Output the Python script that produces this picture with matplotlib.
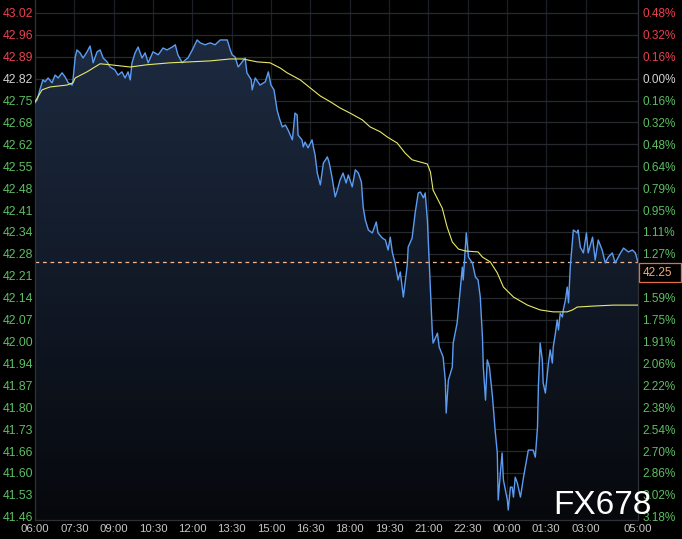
import numpy as np
import matplotlib
matplotlib.use("Agg")
import matplotlib.pyplot as plt
from matplotlib.patches import Polygon, Rectangle
from matplotlib.colors import LinearSegmentedColormap

plt.rcParams['font.family'] = ['Liberation Sans', 'DejaVu Sans']

# ---------------- data ----------------
# minutes after 06:00
price_time = [0, 5, 11, 18, 23, 30, 39, 46, 53, 62, 69, 76, 85, 87, 92, 96, 103, 110, 119, 126,
              131, 133, 142, 149, 156, 165, 172, 183, 190, 199, 206, 213, 218, 222, 229, 236, 245,
              252, 259, 270, 282, 293, 302, 314, 321, 327, 337, 344, 350, 360, 371, 378, 389, 401,
              412, 424, 440, 447, 451, 458, 465, 474, 481, 485, 495, 497, 504, 515, 527, 534, 540,
              547, 554, 559, 566, 573, 579, 589, 595, 600, 602, 611, 614, 618, 625, 634, 637, 641,
              646, 653, 660, 669, 673, 680, 687, 692, 698, 705, 712, 717, 726, 733, 740, 747, 751,
              756, 763, 772, 781, 785, 795, 802, 808, 813, 818, 824, 831, 836, 843, 852, 854, 863,
              870, 877, 882, 889, 893, 898, 900, 905, 909, 911, 921, 925, 934, 939, 941, 946, 955,
              957, 966, 973, 978, 980, 987, 992, 1001, 1008, 1014, 1019, 1024, 1026, 1031, 1035,
              1040, 1047, 1053, 1058, 1060, 1065, 1069, 1072, 1081, 1083, 1088, 1092, 1095, 1099,
              1104, 1106, 1111, 1118, 1122, 1129, 1140, 1145, 1150, 1152, 1156, 1161, 1163, 1168,
              1175, 1179, 1184, 1186, 1191, 1195, 1198, 1202, 1207, 1209, 1214, 1218, 1221, 1225,
              1230, 1232, 1241, 1243, 1248, 1255, 1262, 1266, 1276, 1282, 1289, 1298, 1305, 1312,
              1321, 1328, 1340, 1347, 1358, 1367, 1374, 1380]
price = [42.745, 42.754, 42.785, 42.816, 42.810, 42.822, 42.807, 42.831, 42.822, 42.838, 42.825,
         42.807, 42.800, 42.816, 42.887, 42.909, 42.900, 42.884, 42.903, 42.921, 42.887, 42.869,
         42.903, 42.909, 42.884, 42.872, 42.856, 42.847, 42.831, 42.841, 42.822, 42.841, 42.816,
         42.869, 42.900, 42.918, 42.884, 42.900, 42.869, 42.903, 42.894, 42.915, 42.909, 42.918,
         42.925, 42.894, 42.869, 42.878, 42.884, 42.909, 42.940, 42.931, 42.925, 42.931, 42.925,
         42.940, 42.940, 42.909, 42.894, 42.887, 42.856, 42.872, 42.884, 42.838, 42.816, 42.785,
         42.822, 42.800, 42.810, 42.841, 42.800, 42.785, 42.723, 42.698, 42.670, 42.676, 42.661,
         42.630, 42.713, 42.707, 42.645, 42.630, 42.608, 42.623, 42.605, 42.630, 42.608, 42.583,
         42.527, 42.490, 42.558, 42.577, 42.561, 42.512, 42.453, 42.474, 42.505, 42.527, 42.496,
         42.521, 42.484, 42.537, 42.527, 42.499, 42.422, 42.381, 42.350, 42.341, 42.375, 42.341,
         42.325, 42.319, 42.288, 42.328, 42.279, 42.248, 42.195, 42.220, 42.142, 42.242, 42.297,
         42.325, 42.403, 42.465, 42.468, 42.450, 42.465, 42.381, 42.319, 42.164, 42.040, 41.999,
         42.030, 41.987, 41.956, 41.884, 41.782, 41.884, 41.925, 41.999, 42.061, 42.164, 42.235,
         42.195, 42.341, 42.266, 42.248, 42.204, 42.195, 42.142, 42.018, 41.925, 41.822, 41.947,
         41.925, 41.832, 41.729, 41.658, 41.512, 41.596, 41.658, 41.574, 41.512, 41.481, 41.552,
         41.552, 41.521, 41.583, 41.564, 41.552, 41.521, 41.583, 41.614, 41.667, 41.667, 41.645,
         41.738, 41.863, 41.999, 41.947, 41.875, 41.844, 41.937, 41.978, 41.937, 41.987, 42.030,
         42.071, 42.040, 42.092, 42.080, 42.102, 42.133, 42.173, 42.124, 42.235, 42.319, 42.350,
         42.341, 42.350, 42.297, 42.279, 42.341, 42.279, 42.328, 42.257, 42.319, 42.288, 42.248,
         42.266, 42.279, 42.248, 42.279, 42.294, 42.282, 42.288, 42.279, 42.250]

avg_time = [0, 16, 34, 73, 87, 92, 119, 149, 172, 218, 256, 309, 355, 401, 447, 476, 508, 538,
            561, 577, 607, 630, 653, 676, 698, 721, 749, 767, 790, 806, 829, 847, 863, 898, 905,
            911, 932, 943, 955, 969, 985, 1014, 1024, 1042, 1058, 1072, 1095, 1127, 1156, 1186,
            1218, 1230, 1241, 1278, 1324, 1380]
avg_price = [42.748, 42.785, 42.794, 42.800, 42.807, 42.822, 42.841, 42.866, 42.863, 42.856,
             42.863, 42.869, 42.872, 42.875, 42.881, 42.881, 42.872, 42.869, 42.853, 42.838,
             42.816, 42.791, 42.766, 42.748, 42.729, 42.713, 42.692, 42.670, 42.655, 42.639,
             42.620, 42.589, 42.568, 42.555, 42.530, 42.474, 42.418, 42.360, 42.313, 42.291,
             42.285, 42.282, 42.266, 42.251, 42.217, 42.173, 42.142, 42.117, 42.102, 42.096,
             42.096, 42.102, 42.111, 42.114, 42.117, 42.117]

ref_price = 42.82
last_price = 42.25
last_label = '42.25'
left_labels = ['43.02', '42.96', '42.89', '42.82', '42.75', '42.68', '42.62', '42.55', '42.48',
               '42.41', '42.34', '42.28', '42.21', '42.14', '42.07', '42.00', '41.94', '41.87',
               '41.80', '41.73', '41.66', '41.60', '41.53', '41.46']
right_labels = ['0.48%', '0.32%', '0.16%', '0.00%', '0.16%', '0.32%', '0.48%', '0.64%', '0.79%',
                '0.95%', '1.11%', '1.27%', '', '1.59%', '1.75%', '1.91%', '2.06%', '2.22%',
                '2.38%', '2.54%', '2.70%', '2.86%', '3.02%', '3.18%']
tick_step = 0.068
x_ticks = [0, 90, 180, 270, 360, 450, 540, 630, 720, 810, 900, 990, 1080, 1170, 1260, 1380]
x_labels = ['06:00', '07:30', '09:00', '10:30', '12:00', '13:30', '15:00', '16:30', '18:00',
            '19:30', '21:00', '22:30', '00:00', '01:30', '03:00', '05:00']

# ---------------- figure ----------------
W, H = 682, 539
fig = plt.figure(figsize=(W / 100, H / 100), dpi=100, facecolor='black')
ax = fig.add_axes([35 / W, 19 / H, 603 / W, 520 / H])
ax.set_facecolor('black')
ymin, ymax = 41.450, 43.064
ax.set_xlim(0, 1380)
ax.set_ylim(ymin, ymax)

red, green, neutral = '#e8404f', '#5cbf62', '#d2d2d2'
n_up = 3
yticks = [ref_price + (n_up - i) * tick_step for i in range(len(left_labels))]
colors = [red if i < n_up else (neutral if i == n_up else green) for i in range(len(left_labels))]

ax.set_yticks(yticks)
ax.set_yticklabels(left_labels)
for lab, c in zip(ax.get_yticklabels(), colors):
    lab.set_color(c)
ax.set_xticks(x_ticks)
ax.set_xticklabels(x_labels)
ax.tick_params(axis='both', length=0)
ax.tick_params(axis='y', pad=1.5, labelsize=8.8)
ax.tick_params(axis='x', pad=3, colors='#c8c8c8', labelsize=8.2)

ax.grid(True, axis='y', color='#262a2e', lw=0.9)
ax.grid(True, axis='x', color='#1c1f23', lw=0.9)
ax.set_axisbelow(True)
ax.spines['top'].set_visible(False)
for s in ['left', 'bottom', 'right']:
    ax.spines[s].set_color('#2e3236')
    ax.spines[s].set_linewidth(0.9)

ax2 = ax.twinx()
ax2.set_ylim(ymin, ymax)
ax2.set_yticks(yticks)
ax2.set_yticklabels(right_labels)
for lab, c in zip(ax2.get_yticklabels(), colors):
    lab.set_color(c)
ax2.tick_params(axis='y', length=0, labelsize=8.5, pad=3)
for s in ax2.spines.values():
    s.set_visible(False)

# gradient area under the price line
cmap = LinearSegmentedColormap.from_list('area', ['#1d2a40', '#121a28', '#06080c'])
grad = np.linspace(0, 1, 256).reshape(-1, 1)
img = ax.imshow(grad, cmap=cmap, aspect='auto', extent=[0, 1380, ymin, 42.95],
                origin='upper', zorder=1, interpolation='bicubic')
poly_pts = list(zip(price_time, price)) + [(price_time[-1], ymin), (price_time[0], ymin)]
poly = Polygon(poly_pts, closed=True, facecolor='none', edgecolor='none')
ax.add_patch(poly)
img.set_clip_path(poly)

ax.plot(price_time, price, color='#5b9cf2', lw=1.0, zorder=3)
ax.plot(avg_time, avg_price, color='#e8e86a', lw=0.8, zorder=4)
ax.axhline(last_price, color='#f2b894', lw=0.9, ls=(0, (3, 3)), zorder=2)

# last price box (right side, just below the dashed line)
fig.patches.append(Rectangle((639 / W, 1 - 282 / H), 42 / W, 19 / H, transform=fig.transFigure,
                             facecolor='black', edgecolor='#e0704a', lw=0.9, zorder=9))
fig.text(643 / W, 1 - 272.5 / H, last_label, color='#f7a878', fontsize=8.5, ha='left',
         va='center', zorder=10)

# watermark
fig.text(553 / W, 1 - 514 / H, 'FX678', color='white', fontsize=24, ha='left', va='baseline',
         zorder=12)

fig.savefig('out.png', dpi=100, facecolor='black')
